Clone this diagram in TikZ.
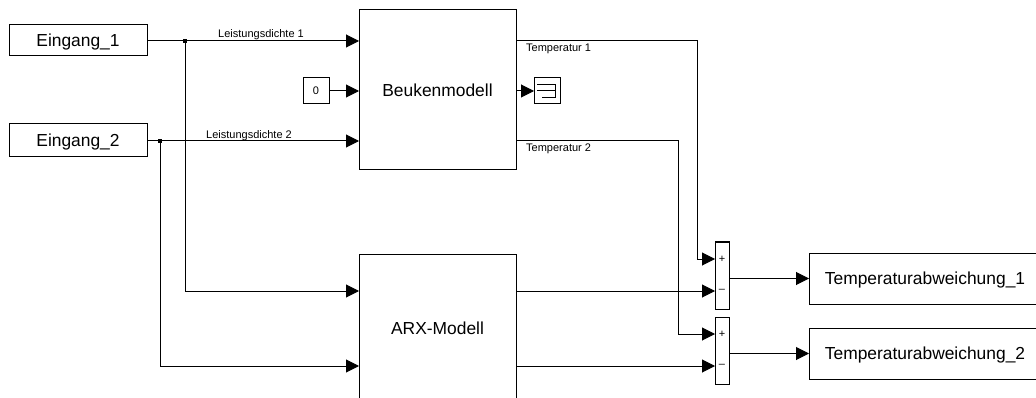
\documentclass[tikz,border=0pt]{standalone}
\usepackage{fontspec}
\setmainfont{Liberation Sans}
\usetikzlibrary{arrows.meta}

\begin{document}
\begin{tikzpicture}[
            x=1pt, y=-1pt,
            signal/.style={color=black, line width=1pt},
            feed/.style={signal, -{Triangle[length=13pt, width=13pt]}},
            block/.style={draw=black, line width=1pt, fill=white, inner sep=0pt, outer sep=0pt, text height=12.4pt, text depth=0pt, font=\fontsize{17.4}{20}\selectfont},
            smallblock/.style={block, minimum width=26pt, minimum height=26pt, text height=8pt, font=\fontsize{11}{13}\selectfont},
            sumblock/.style={block, minimum width=14pt, minimum height=67pt},
            junction/.style={fill=black, inner sep=0pt, minimum size=4.5pt},
            signame/.style={inner sep=0pt, text=black, font=\fontsize{11}{13}\selectfont}
        ]
            \useasboundingbox (0, 0) rectangle (1036, 398);

            % sources
            \node[block, minimum width=138pt, minimum height=31pt] (eingangA) at (78, 40.5) {Eingang\_1};
            \node[block, minimum width=138pt, minimum height=33pt] (eingangB) at (78, 140.5) {Eingang\_2};
            \node[smallblock] (nullwert) at (316, 91) {0};

            % models
            \node[block, minimum width=157pt, minimum height=160pt] (beuken) at (437.5, 90) {Beukenmodell};
            \node[block, minimum width=157pt, minimum height=148pt] (arx) at (437.5, 328) {ARX-Modell};

            % terminator
            \node[smallblock] (abschluss) at (547, 91) {};
            \draw[signal] (537, 84.5) -- (555, 84.5) -- (555, 97.5) -- (542, 97.5);
            \draw[signal] (537, 91) -- (555, 91);

            % sums
            \node[sumblock] (sumA) at (722, 275.5) {};
            \node[sumblock] (sumB) at (722, 350.5) {};
            \foreach \s in {sumA, sumB}{
                \node[signame] at ([yshift=16.5pt]\s.center) {+};
                \node[signame] at ([yshift=-15.5pt]\s.center) {--};
            }

            % results
            \node[block, minimum width=232pt, minimum height=51pt] (abweichungA) at (925, 278.5) {Temperaturabweichung\_1};
            \node[block, minimum width=232pt, minimum height=51pt] (abweichungB) at (925, 353.5) {Temperaturabweichung\_2};

            % branch points
            \node[junction] (abzweigA) at (185, 41) {};
            \node[junction] (abzweigB) at (160, 141) {};

            % inputs of the models
            \draw[signal] (eingangA.east |- abzweigA) -- (abzweigA);
            \draw[signal] (eingangB.east |- abzweigB) -- (abzweigB);
            \draw[feed] (abzweigA) -- (abzweigA -| beuken.west);
            \draw[feed] (abzweigB) -- (abzweigB -| beuken.west);
            \draw[feed] (nullwert) -- (nullwert -| beuken.west);
            \draw[feed] (abzweigA) |- (arx.west |- 0, 291);
            \draw[feed] (abzweigB) |- (arx.west |- 0, 366);
            \draw[feed] (beuken.east |- abschluss) -- (abschluss);

            % outputs of the models
            \draw[feed] (beuken.east |- 0, 41) -| (697, 259) -- (sumA.west |- 0, 259);
            \draw[feed] (beuken.east |- 0, 141) -| (678, 334) -- (sumB.west |- 0, 334);
            \draw[feed] (arx.east |- 0, 291) -- (sumA.west |- 0, 291);
            \draw[feed] (arx.east |- 0, 366) -- (sumB.west |- 0, 366);

            % differences
            \draw[feed] (sumA.east |- abweichungA) -- (abweichungA);
            \draw[feed] (sumB.east |- abweichungB) -- (abweichungB);

            % signal names
            \node[signame, anchor=base west] (nameA) at (218, 38) {Leistungsdichte 1};
            \node[signame, anchor=base west] (nameB) at (206, 139) {Leistungsdichte 2};
            \node[signame, anchor=base west] (nameC) at (526, 52) {Temperatur 1};
            \node[signame, anchor=base west] (nameD) at (526, 152) {Temperatur 2};
        \end{tikzpicture}
\end{document}
